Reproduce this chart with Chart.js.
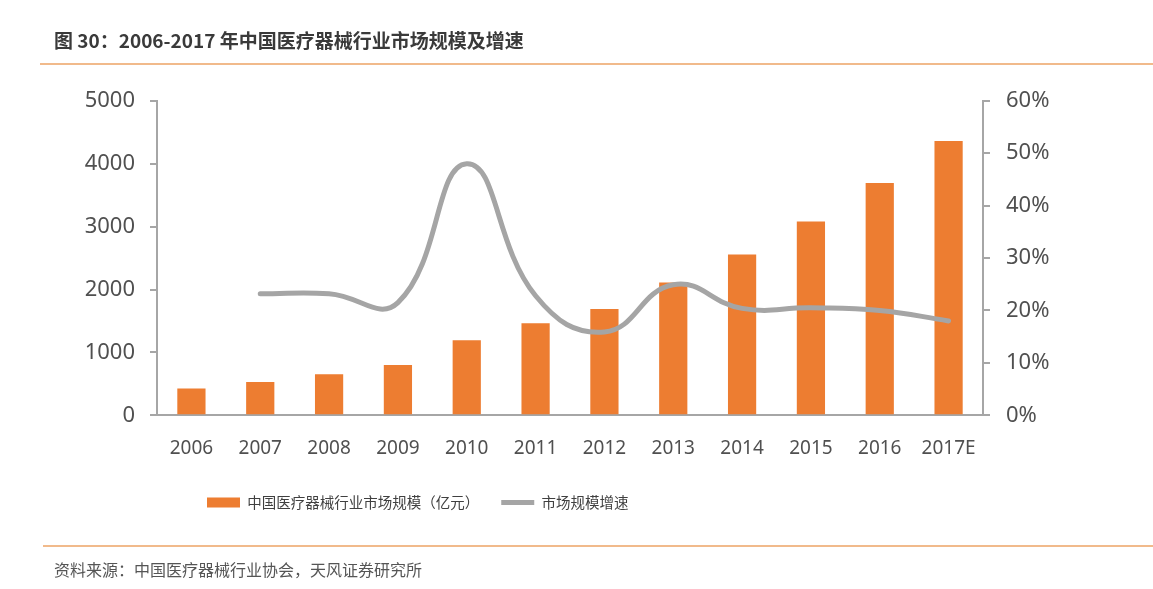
<!DOCTYPE html>
<html>
<head>
<meta charset="utf-8">
<script src="https://cdn.jsdelivr.net/npm/chart.js@4/dist/chart.umd.min.js"></script>
<style>
  html, body { margin: 0; padding: 0; background: #ffffff; }
  #wrap { width: 1153px; height: 589px; position: relative; }
</style>
</head>
<body>
<div id="wrap"><canvas id="c" width="1153" height="589"></canvas></div>
<script>
const titleText = '图 30：2006-2017 年中国医疗器械行业市场规模及增速';
const sourceText = '资料来源：中国医疗器械行业协会，天风证券研究所';
const categories = ['2006', '2007', '2008', '2009', '2010', '2011', '2012', '2013', '2014', '2015', '2016', '2017E'];
const marketSize = [425, 530, 652, 800, 1192, 1462, 1690, 2110, 2555, 3080, 3693, 4361];
const growthRate = [null, 23.2, 23.2, 21.5, 48.0, 22.8, 15.9, 24.9, 20.4, 20.5, 20.0, 18.0];
const leftTicks = [0, 1000, 2000, 3000, 4000, 5000];
const rightTicks = [0, 10, 20, 30, 40, 50, 60];
const sizeLabel = '中国医疗器械行业市场规模（亿元）';
const growthLabel = '市场规模增速';

const decorPlugin = {
  id: 'decor',
  afterLayout(chart) {
    const lg = chart.legend;
    if (lg) { lg.left = 207 - 22; }
  },
  beforeDraw(chart) {
    const ctx = chart.ctx;
    ctx.save();
    ctx.fillStyle = '#ffffff';
    ctx.fillRect(0, 0, chart.width, chart.height);
    ctx.strokeStyle = '#EDA466';
    ctx.lineWidth = 1.5;
    ctx.beginPath();
    ctx.moveTo(40, 64); ctx.lineTo(chart.width, 64);
    ctx.moveTo(43, 546); ctx.lineTo(chart.width, 546);
    ctx.stroke();
    ctx.restore();
  }
};

new Chart(document.getElementById('c'), {
  data: {
    labels: categories,
    datasets: [
      {
        type: 'line',
        label: growthLabel,
        data: growthRate,
        yAxisID: 'y1',
        borderColor: '#A5A5A5',
        backgroundColor: '#A5A5A5',
        borderWidth: 5,
        pointRadius: 0,
        pointHoverRadius: 0,
        tension: 0.45,
        fill: false,
        pointStyle: 'line',
        borderCapStyle: 'round',
        order: 0
      },
      {
        type: 'bar',
        label: sizeLabel,
        data: marketSize,
        yAxisID: 'y',
        backgroundColor: '#ED7D31',
        borderWidth: 0,
        barPercentage: 0.41,
        categoryPercentage: 1.0,
        pointStyle: 'rect',
        order: 1
      }
    ]
  },
  options: {
    responsive: false,
    animation: false,
    devicePixelRatio: 1,
    layout: { padding: { left: 54, right: 100, top: 0, bottom: 7 } },
    plugins: {
      title: {
        display: true,
        text: titleText,
        align: 'start',
        color: '#3A3A3A',
        font: { family: '"Noto Sans CJK SC", "Noto Sans", sans-serif', size: 19, weight: 'bold' },
        padding: { top: 29, bottom: 49 }
      },
      subtitle: {
        display: true,
        text: sourceText,
        position: 'bottom',
        align: 'start',
        color: '#555555',
        font: { family: '"Noto Sans CJK SC", "Noto Sans", sans-serif', size: 16 },
        padding: { top: 41, bottom: 2 }
      },
      legend: {
        position: 'bottom',
        align: 'start',
        reverse: true,
        labels: {
          usePointStyle: true,
          pointStyleWidth: 33,
          boxHeight: 10,
          padding: 22,
          color: '#404040',
          font: { family: '"Noto Sans CJK SC", "Noto Sans", sans-serif', size: 14.5 }
        }
      },
      tooltip: { enabled: false }
    },
    scales: {
      x: {
        grid: { display: false, drawTicks: false },
        border: { display: true, color: '#A6A6A6', width: 2 },
        afterFit: (s) => { s.height = 58; },
        ticks: {
          color: '#505050',
          padding: 22,
          maxRotation: 0,
          autoSkip: false,
          font: { family: '"Noto Sans", sans-serif', size: 19 }
        }
      },
      y: {
        position: 'left',
        min: 0,
        max: 5000,
        afterBuildTicks: (s) => { s.ticks = leftTicks.map(v => ({ value: v })); },
        afterFit: (s) => { s.width = 103; },
        grid: { display: true, drawOnChartArea: false, drawTicks: true, tickLength: 7, color: '#A6A6A6', lineWidth: 2 },
        border: { display: true, color: '#A6A6A6', width: 2 },
        ticks: {
          color: '#505050',
          padding: 15,
          callback: (v) => String(v),
          font: { family: '"Noto Sans", sans-serif', size: 22 }
        }
      },
      y1: {
        position: 'right',
        min: 0,
        max: 60,
        afterBuildTicks: (s) => { s.ticks = rightTicks.map(v => ({ value: v })); },
        afterFit: (s) => { s.width = 70; },
        grid: { display: true, drawOnChartArea: false, drawTicks: true, tickLength: 7, color: '#A6A6A6', lineWidth: 2 },
        border: { display: true, color: '#A6A6A6', width: 2 },
        ticks: {
          color: '#505050',
          padding: 16,
          callback: (v) => v + '%',
          font: { family: '"Noto Sans", sans-serif', size: 22 }
        }
      }
    }
  },
  plugins: [decorPlugin]
});
</script>
</body>
</html>
